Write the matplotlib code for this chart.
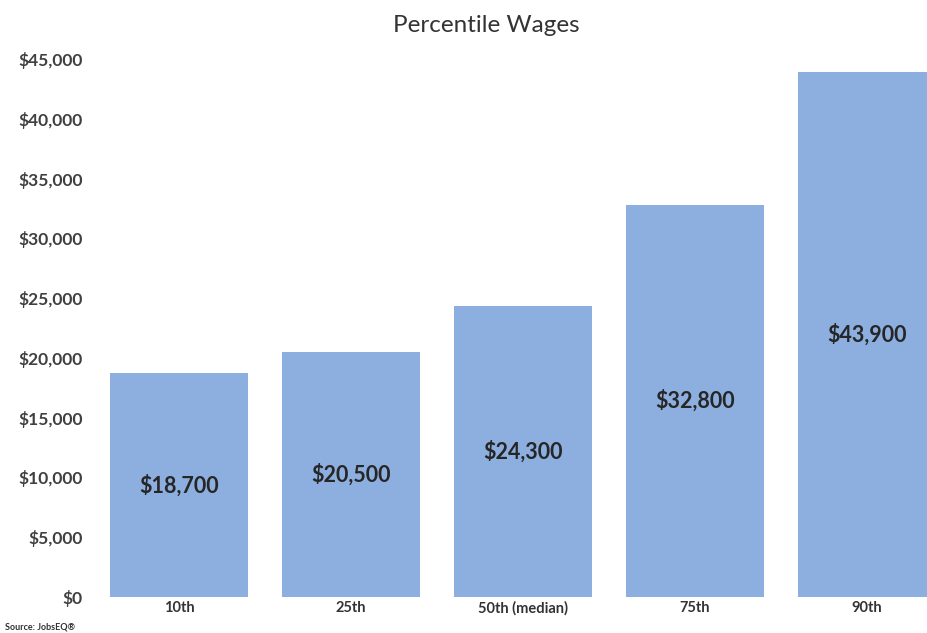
import matplotlib
matplotlib.use("Agg")
import matplotlib.pyplot as plt
from matplotlib.ticker import FuncFormatter

categories = ["10th", "25th", "50th (median)", "75th", "90th"]
wages = [18700, 20500, 24300, 32800, 43900]
bar_labels = ["$18,700", "$20,500", "$24,300", "$32,800", "$43,900"]
yticks = [0, 5000, 10000, 15000, 20000, 25000, 30000, 35000, 40000, 45000]

plt.rcParams['font.family'] = ['Lato', 'DejaVu Sans']

W, H = 927, 633
fig = plt.figure(figsize=(W/100, H/100), dpi=100)
left_px, right_px = 95, 927
top_px, bot_px = 59, 597
ax = fig.add_axes([left_px/W, 1 - bot_px/H, (right_px-left_px)/W, (bot_px-top_px)/H])

x = list(range(len(categories)))
bars = ax.bar(x, wages, width=0.8, color='#8DAFE0', zorder=2)

for xi, v, lab in zip(x, wages, bar_labels):
    ax.text(xi, v/2, lab, ha='center', va='center', fontsize=15.5,
            fontweight='bold', color='#262626')

spacing = 172.0
c0 = 179.0
ax.set_xlim((left_px - c0)/spacing, (right_px - c0)/spacing)
ax.set_ylim(0, 45000)
ax.set_yticks(yticks)
ax.yaxis.set_major_formatter(FuncFormatter(lambda v, p: "${:,.0f}".format(v)))
ax.set_xticks(x)
ax.set_xticklabels(categories)
ax.tick_params(axis='y', length=0, pad=9, labelsize=12.5, labelcolor='#404040')
ax.tick_params(axis='x', length=0, pad=3, labelsize=10.5, labelcolor='#333333')
for t in ax.get_yticklabels() + ax.get_xticklabels():
    t.set_fontweight('bold')
for s in ax.spines.values():
    s.set_visible(False)

fig.text(486/W, 1 - 25/H, "Percentile Wages", ha='center', va='center',
         fontsize=17.5, color='#333333')
fig.text(5/W, 1 - 627/H, "Source: JobsEQ\u00ae", ha='left', va='center',
         fontsize=6.5, fontweight='bold', color='#333333')

fig.savefig("out.png", dpi=100)
